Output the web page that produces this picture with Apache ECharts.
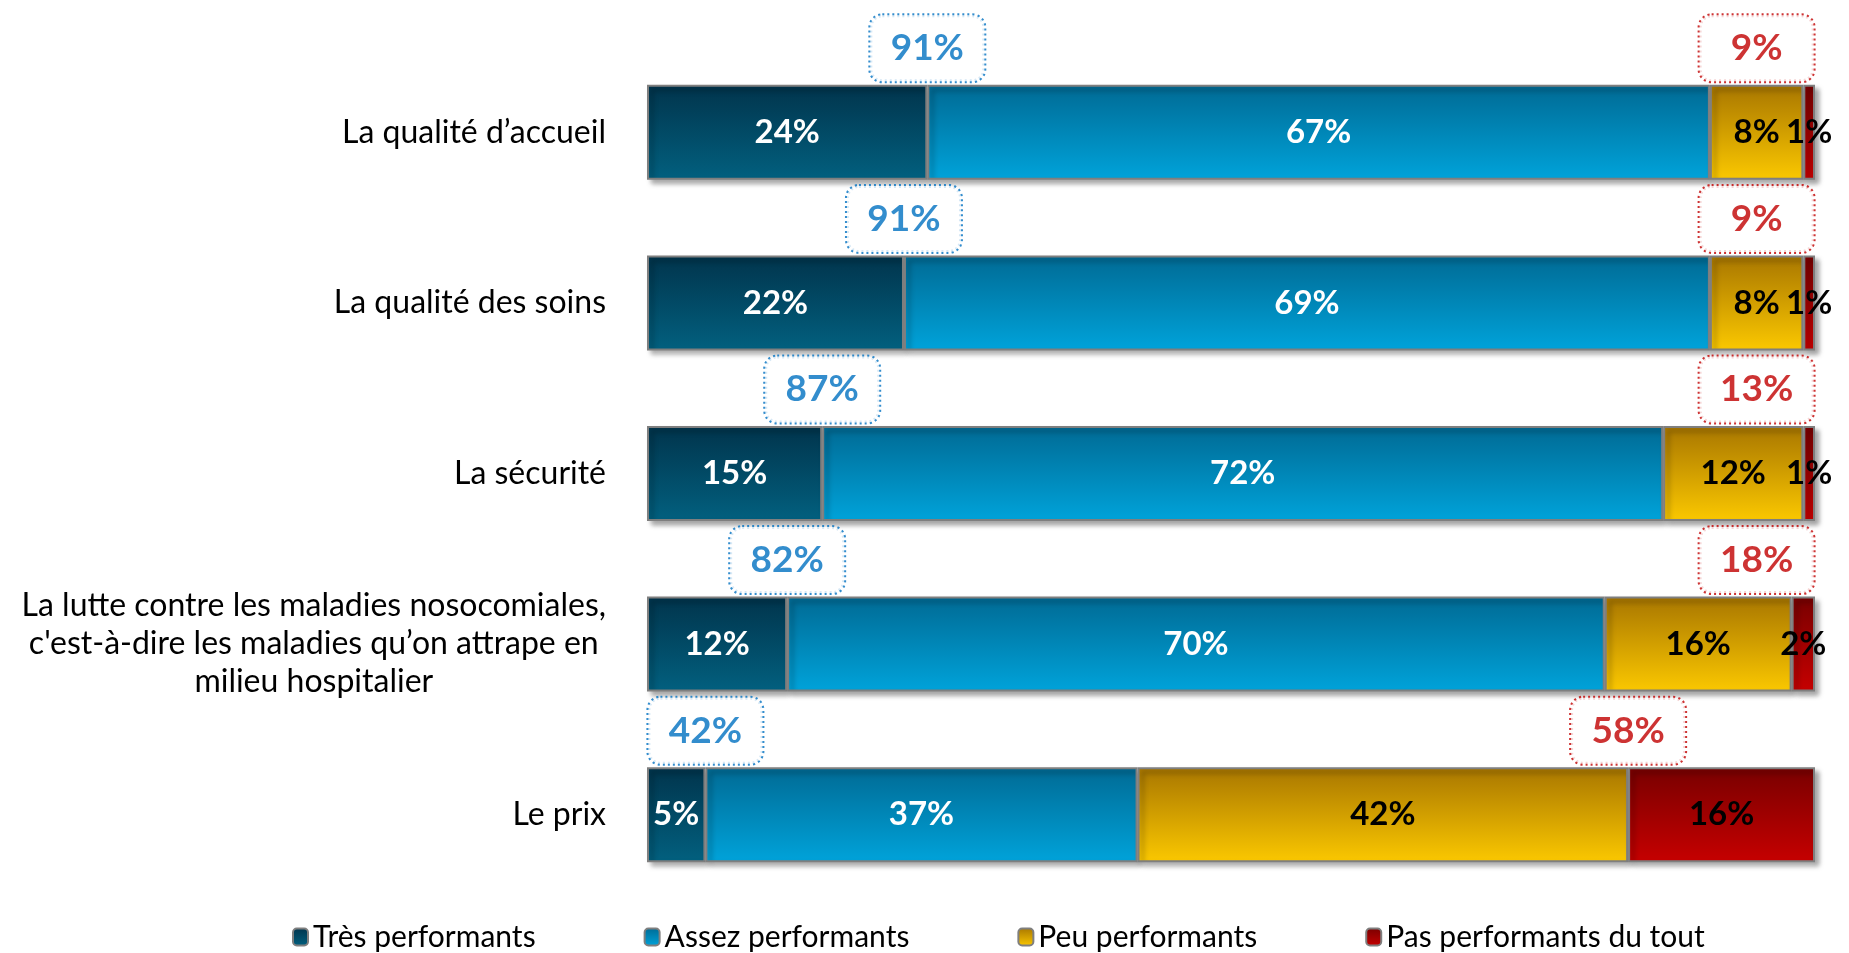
<!DOCTYPE html>
<html>
<head>
<meta charset="utf-8">
<title>Performance des hôpitaux</title>
<script src="https://cdn.jsdelivr.net/npm/echarts@6.0.0/dist/echarts.min.js"></script>
<style>
  html, body { margin: 0; padding: 0; background: #fff; }
  #chart { width: 1849px; height: 953px; }
</style>
</head>
<body>
<div id="chart"></div>
<script>
// categories (top to bottom)
var categories = [
  'La qualité d’accueil',
  'La qualité des soins',
  'La sécurité',
  'La lutte contre les maladies nosocomiales,\nc\'est-à-dire les maladies qu’on attrape en\nmilieu hospitalier',
  'Le prix'
];
var seriesNames = ['Très performants', 'Assez performants', 'Peu performants', 'Pas performants du tout'];
var tres = [24, 22, 15, 12, 5];
var assez = [67, 69, 72, 70, 37];
var peu = [8, 8, 12, 16, 42];
var pas = [1, 1, 1, 2, 16];
// totaux des bulles
var totalPerf = [91, 91, 87, 82, 42];
var totalPasPerf = [9, 9, 13, 18, 58];

var FONT = 'Lato, "Noto Sans", sans-serif';

function grad(top, bottom) {
  return new echarts.graphic.LinearGradient(0, 0, 0, 1, [
    {offset: 0, color: top},
    {offset: 1, color: bottom}
  ]);
}

var colors = [
  ['#01344c', '#02607f'],
  ['#006a94', '#00a3da'],
  ['#a87600', '#fbc800'],
  ['#780000', '#c60000']
];
var labelColors = ['#fff', '#fff', '#000', '#000'];

function barSeries(idx, data) {
  return {
    name: seriesNames[idx],
    type: 'bar',
    stack: 'total',
    barWidth: 95,
    data: data,
    itemStyle: {
      color: grad(colors[idx][0], colors[idx][1]),
      borderColor: '#7f7f7f',
      borderWidth: 2,
      shadowColor: 'rgba(0,0,0,0.35)',
      shadowBlur: 5,
      shadowOffsetX: 4,
      shadowOffsetY: 4
    },
    label: {
      show: true,
      position: 'inside',
      formatter: '{c}%',
      color: labelColors[idx],
      fontFamily: FONT,
      fontWeight: 'bold',
      fontSize: 33
    },
    emphasis: {disabled: true}
  };
}

// bulles : position calée sur les frontières des segments
var bluePts = [], redPts = [];
for (var i = 0; i < categories.length; i++) {
  bluePts.push([tres[i], i]);
  redPts.push([Math.min(tres[i] + assez[i] + peu[i], 95), i]);
}

function calloutSeries(pts, totals, color) {
  return {
    type: 'scatter',
    data: pts,
    symbolSize: 1,
    itemStyle: {color: 'rgba(0,0,0,0)'},
    silent: true,
    z: 10,
    label: {
      show: true,
      position: 'inside',
      offset: [0, -84],
      formatter: function (p) { return '{t|' + totals[p.dataIndex] + '%}'; },
      width: 64,
      height: 40,
      align: 'center',
      verticalAlign: 'middle',
      padding: [13, 25],
      backgroundColor: '#fff',
      borderColor: color,
      borderWidth: 2,
      borderType: [2, 3],
      borderRadius: 12,
      rich: {
        t: {color: color, fontFamily: FONT, fontWeight: 'bold', fontSize: 37, lineHeight: 40}
      }
    }
  };
}

var chart = echarts.init(document.getElementById('chart'));
chart.setOption({
  animation: false,
  grid: {left: 647, right: 34, top: 47, bottom: 53},
  legend: {
    data: seriesNames,
    left: 287,
    top: 917,
    itemWidth: 15,
    itemHeight: 17,
    itemGap: 108,
    itemStyle: {shadowBlur: 0, shadowOffsetX: 0, shadowOffsetY: 0, borderColor: '#7f7f7f', borderWidth: 2},
    textStyle: {fontFamily: FONT, fontSize: 30, color: '#000'}
  },
  xAxis: {
    type: 'value',
    min: 0,
    max: 100,
    show: false
  },
  yAxis: {
    type: 'category',
    inverse: true,
    data: categories,
    axisLine: {show: false},
    axisTick: {show: false},
    axisLabel: {
      margin: 41,
      color: '#000',
      fontFamily: FONT,
      fontSize: 32,
      lineHeight: 38,
      formatter: function (v) {
        return v.indexOf('\n') >= 0 ? '{m|' + v + '}' : v;
      },
      rich: {
        m: {align: 'center', fontFamily: FONT, fontSize: 32, lineHeight: 38, color: '#000'}
      }
    }
  },
  series: [
    barSeries(0, tres),
    barSeries(1, assez),
    barSeries(2, peu),
    barSeries(3, pas),
    calloutSeries(bluePts, totalPerf, '#0070c0'),
    calloutSeries(redPts, totalPasPerf, '#c00000')
  ]
});
</script>
</body>
</html>
